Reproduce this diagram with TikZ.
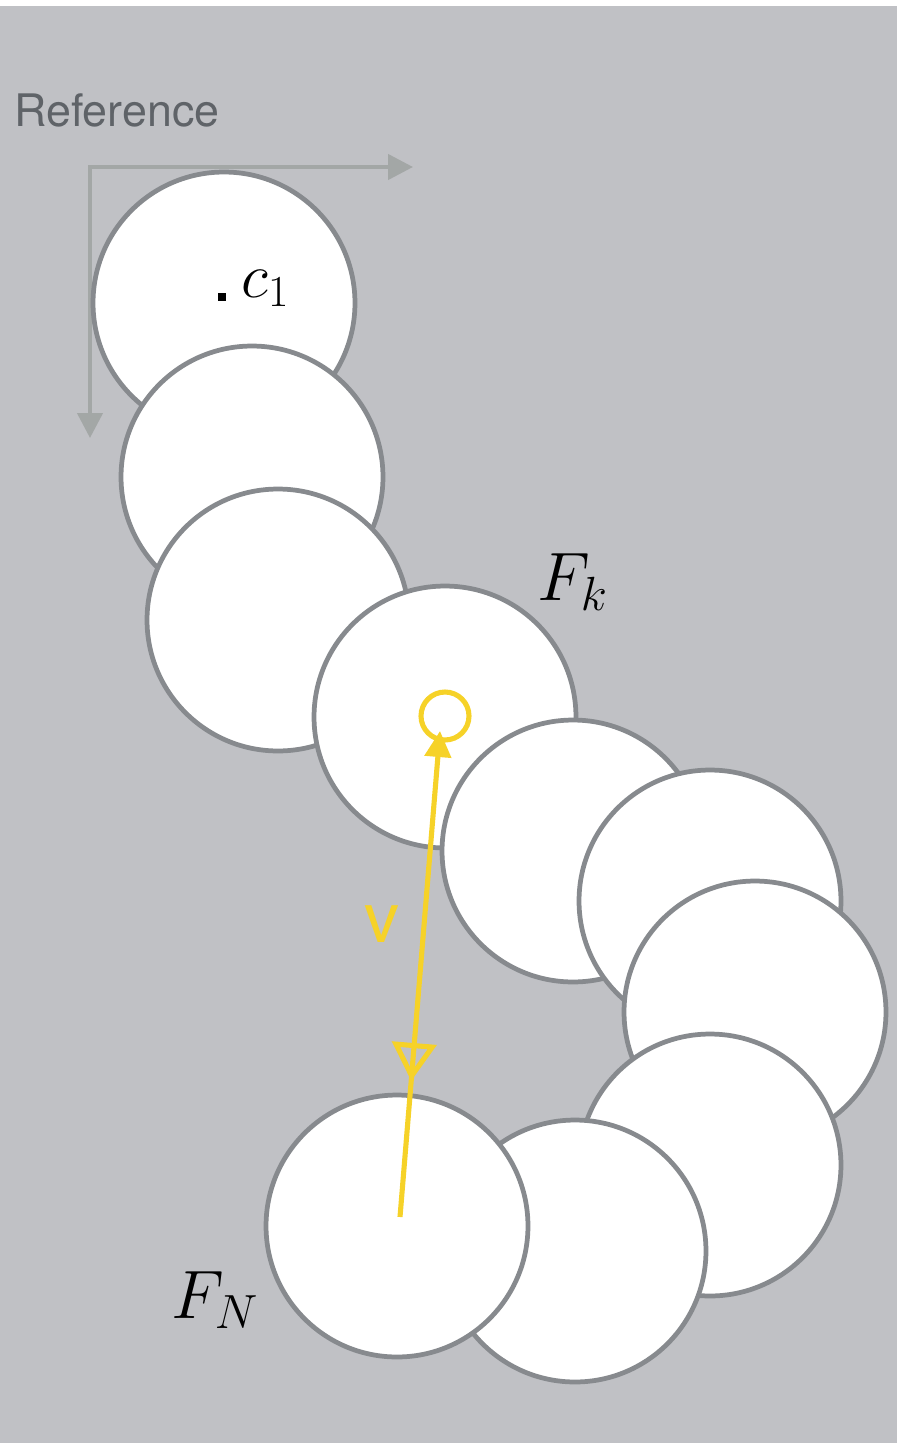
\RequirePackage{fix-cm}
\documentclass[tikz,border=0pt]{standalone}
\usepackage{amsmath,amssymb}
\usepackage{fontspec}
\usepackage{tikz}
\usepackage{xcolor}
\usetikzlibrary{arrows.meta,decorations.markings}
\newfontfamily\heros{TeX Gyre Heros}
\definecolor{frameBg}{RGB}{192,193,197}
\definecolor{frameRim}{RGB}{135,138,142}
\definecolor{frameAxis}{RGB}{163,167,166}
\definecolor{frameText}{RGB}{95,99,104}
\definecolor{vecYellow}{RGB}{246,210,40}

\begin{document}
\begin{tikzpicture}[
    x=0.02cm,y=-0.02cm,
    disk/.style={circle,draw=frameRim,fill=white,line width=2.7pt,minimum size=5.24cm,inner sep=0pt},
    axis/.style={{Triangle[length=0.5cm,width=0.5cm]}-{Triangle[length=0.5cm,width=0.5cm]},line width=2.5pt,frameAxis},
    vec/.style={-{Triangle[length=0.52cm,width=0.52cm]},line width=2.9pt,vecYellow},
    mlabel/.style={inner sep=0pt,font=\fontsize{39}{45}\selectfont},
    revtip/.style={postaction={decorate},decoration={markings,
        mark=at position 0.28 with {\arrowreversed[line width=2.9pt]{Triangle[open,length=0.76cm,width=0.88cm]}}}}
  ]
    \useasboundingbox (0,0) rectangle (897,1443);
    \fill[frameBg] (0,6) rectangle (897,1443);

    % reference frame
    \node[anchor=base west,inner sep=0pt,text=frameText,font=\heros\fontsize{25.5}{30}\selectfont] (ref) at (14,127) {Reference};
    \coordinate (o) at (90,167);
    \coordinate (ox) at (413,167);
    \coordinate (oy) at (90,438);
    \draw[axis] (ox) -- (o) -- (oy);

    % frames along the path
    \node[disk] (f1) at (224,303) {};
    \node[disk] (f2) at (252,477) {};
    \node[disk] (f3) at (278,620) {};
    \node[disk] (fk) at (445,717) {};
    \node[disk] (f5) at (573,851) {};
    \node[disk] (f6) at (710,901) {};
    \node[disk] (f7) at (755,1012) {};
    \node[disk] (f8) at (710,1165) {};
    \node[disk] (f9) at (575,1251) {};
    \node[disk] (fn) at (397,1226) {};

    % labels
    \fill (218,293) rectangle (226,301);
    \node[anchor=base west,inner sep=0pt,font=\fontsize{36}{42}\selectfont] (c1) at (241,297) {$c_1$};
    \node[mlabel,anchor=base west] (lk) at (537,600) {$F_k$};
    \node[mlabel,anchor=base west] (ln) at (171,1318) {$F_N$};

    % vector v
    \node[circle,draw=vecYellow,line width=2.9pt,minimum size=0.96cm,inner sep=0pt] (ck) at (445,716) {};
    \coordinate (vs) at (400,1217);
    \coordinate (ve) at (440,731);
    \draw[vec,revtip] (vs) -- (ve);
    \node[anchor=base west,inner sep=0pt,text=vecYellow,font=\heros\fontsize{40}{46}\selectfont] (v) at (364,942) {v};
  \end{tikzpicture}
\end{document}
